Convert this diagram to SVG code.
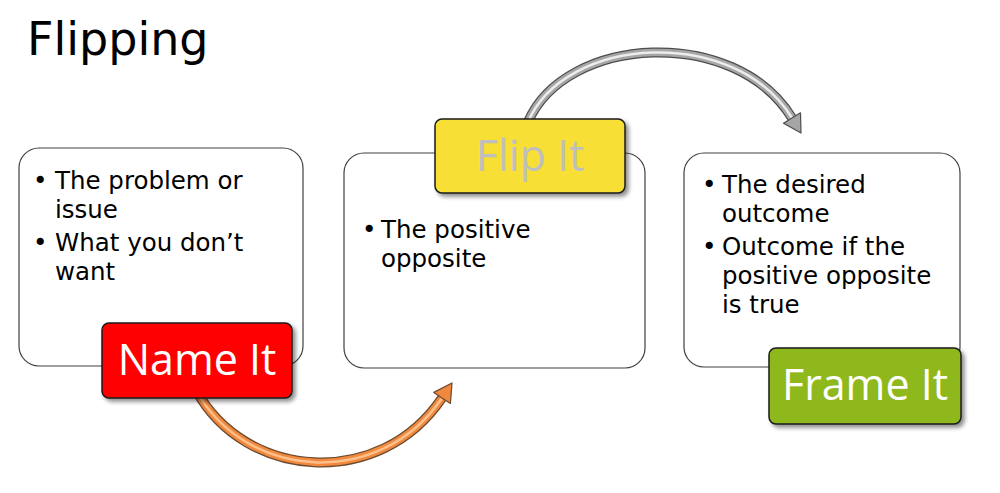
<svg xmlns="http://www.w3.org/2000/svg" width="1000" height="493" viewBox="0 0 1000 493">
<defs>
<filter id="sh" x="-10%" y="-10%" width="130%" height="140%">
<feGaussianBlur in="SourceAlpha" stdDeviation="2"/>
<feOffset dx="3" dy="3" result="b"/>
<feComponentTransfer><feFuncA type="linear" slope="0.45"/></feComponentTransfer>
<feMerge><feMergeNode/><feMergeNode in="SourceGraphic"/></feMerge>
</filter>
</defs>
<style>
.box{fill:#fff;stroke:#404040;stroke-width:1.2}
.lab{stroke:#1a1a1a;stroke-width:1.5}
.bt{font-family:"DejaVu Sans",sans-serif;font-size:24.5px;fill:#000}
.lt{font-family:"Open Sans","Liberation Sans",sans-serif;font-size:43px;text-anchor:middle}
.e0{fill:none;stroke-width:10}
.e1{fill:none;stroke-width:7.5}
.e2{fill:none;stroke-width:2.5}
</style>
<rect width="1000" height="493" fill="#fff"/>
<text x="27" y="55" font-family="DejaVu Sans,sans-serif" font-size="46" fill="#000">Flipping</text>

<g id="connectors">
<path class="e0" d="M196,390 C245,480 380,490 442,398" stroke="#6b4a2e"/>
<path class="e1" d="M196,390 C245,480 380,490 442,398" stroke="#f0883e"/>
<path class="e2" d="M196,390 C245,480 380,490 442,398" stroke="#fbc08c"/>
<polygon points="452,383 450.4,403.4 442,398 433.8,392.4" fill="#f0883e" stroke="#6b4a2e" stroke-width="1.2" stroke-linejoin="round"/>
<path class="e0" d="M528,122 C565,35 735,25 792,118" stroke="#4d4d4d"/>
<path class="e1" d="M528,122 C565,35 735,25 792,118" stroke="#a6a6a6"/>
<path class="e2" d="M528,122 C565,35 735,25 792,118" stroke="#ececec"/>
<polygon points="801,133 800.5,112.8 792,118 783.5,123.2" fill="#a6a6a6" stroke="#4d4d4d" stroke-width="1.2" stroke-linejoin="round"/>
</g>

<g id="node-name">
<rect class="box" x="19" y="148" width="284" height="218" rx="20"/>
<text class="bt"><tspan x="33" y="189">•</tspan><tspan x="55" y="189">The problem or</tspan><tspan x="55" y="218">issue</tspan><tspan x="33" y="251">•</tspan><tspan x="55" y="251">What you don’t</tspan><tspan x="55" y="280">want</tspan></text>
<rect class="lab" x="102" y="323" width="190" height="75" rx="7" fill="#ff0000" filter="url(#sh)"/>
<text class="lt" x="197" y="375" fill="#fff">Name It</text>
</g>

<g id="node-flip">
<rect class="box" x="344" y="153" width="301" height="215" rx="20"/>
<text class="bt"><tspan x="362" y="238">•</tspan><tspan x="381" y="238">The positive</tspan><tspan x="381" y="267">opposite</tspan></text>
<rect class="lab" x="435" y="119" width="190" height="74" rx="7" fill="#f8df35" filter="url(#sh)"/>
<text class="lt" x="530" y="171" fill="#bfbfbf">Flip It</text>
</g>

<g id="node-frame">
<rect class="box" x="684" y="153" width="276" height="214" rx="20"/>
<text class="bt"><tspan x="702" y="193">•</tspan><tspan x="722" y="193">The desired</tspan><tspan x="722" y="222">outcome</tspan><tspan x="702" y="255">•</tspan><tspan x="722" y="255">Outcome if the</tspan><tspan x="722" y="284">positive opposite</tspan><tspan x="722" y="313">is true</tspan></text>
<rect class="lab" x="769" y="348" width="192" height="76" rx="7" fill="#8fb81c" filter="url(#sh)"/>
<text class="lt" x="865" y="400" fill="#fff">Frame It</text>
</g>
</svg>
